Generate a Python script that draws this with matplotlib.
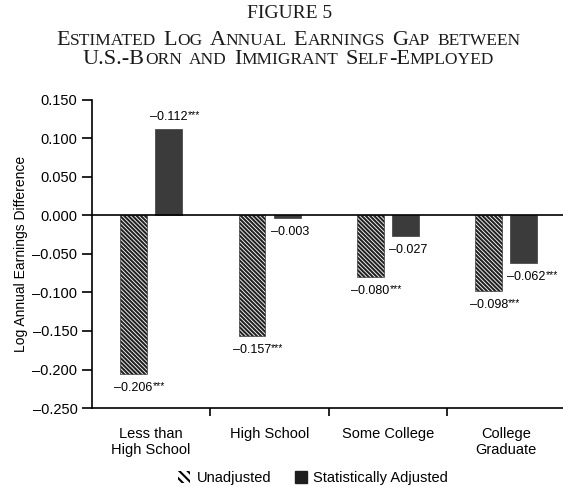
import matplotlib
matplotlib.use("Agg")
import matplotlib.pyplot as plt
from matplotlib.patches import Patch
import numpy as np

# ---- data -------------------------------------------------------------
categories = ["Less than\nHigh School", "High School", "Some College", "College\nGraduate"]
unadjusted = [-0.206, -0.157, -0.080, -0.098]
adjusted = [0.112, -0.003, -0.027, -0.062]
unadjusted_labels = ["\u20130.206", "\u20130.157", "\u20130.080", "\u20130.098"]
adjusted_labels = ["\u20130.112", "\u20130.003", "\u20130.027", "\u20130.062"]
unadjusted_stars = ["***", "***", "***", "***"]
adjusted_stars = ["***", "", "", "***"]
yticks = [0.150, 0.100, 0.050, 0.000, -0.050, -0.100, -0.150, -0.200, -0.250]
series_names = ["Unadjusted", "Statistically Adjusted"]

title_lines = [
    "FIGURE 5",
    "Estimated Log Annual Earnings Gap between",
    "U.S.-Born and Immigrant Self-Employed",
]

# ---- figure -----------------------------------------------------------
W, H, DPI = 563, 487, 100
SANS = "Liberation Sans"
SERIF = "Liberation Serif"
plt.rcParams["font.family"] = [SANS, "DejaVu Sans"]
plt.rcParams["hatch.linewidth"] = 1.5
plt.rcParams["hatch.color"] = "black"

fig = plt.figure(figsize=(W / DPI, H / DPI), dpi=DPI)
renderer = fig.canvas.get_renderer()
ax = fig.add_axes([92 / W, 1 - 408 / H, (W - 92) / W, (408 - 100) / H])

x = np.arange(len(categories))
bw = 0.228
off = 0.148
dark = "#3b3b3b"

b1 = ax.bar(x - off, unadjusted, bw, color="white", edgecolor="#222222",
            linewidth=0.4, hatch="\\" * 8, zorder=2)
b2 = ax.bar(x + off, adjusted, bw, color=dark, edgecolor=dark,
            linewidth=0.5, zorder=2)

ax.axhline(0, color="black", lw=1.2, zorder=3)

ax.set_xlim(-0.5, 3.48)
ax.set_ylim(-0.25, 0.15)
ax.set_yticks(yticks)
ax.set_yticklabels([f"{v:.3f}".replace("-", "\u2013") for v in yticks])
ax.set_xticks(x)
ax.set_xticklabels(categories, linespacing=1.1)
ax.set_xticks(x[:-1] + 0.5, minor=True)
ax.tick_params(axis="x", which="major", length=0, pad=14, labelsize=10.5)
ax.tick_params(axis="x", which="minor", length=6, width=1.2, direction="out")
ax.tick_params(axis="y", length=7, width=1.2, pad=3.5, labelsize=10.5)
for side in ("top", "right"):
    ax.spines[side].set_visible(False)
for side in ("left", "bottom"):
    ax.spines[side].set_linewidth(1.2)

fig.text(21 / W, 1 - 254 / H, "Log Annual Earnings Difference", rotation=90,
         ha="center", va="center", fontsize=10)


# ---- value labels -----------------------------------------------------
def value_label(xv, yv, text, stars, ha, dx, dy):
    t = ax.annotate(text, xy=(xv, yv), xytext=(dx, dy), textcoords="offset pixels",
                    ha=ha, va="center", fontsize=9, zorder=4)
    if stars:
        ax.annotate(stars, xy=(1.0, 1.1), xycoords=t, ha="left", va="top",
                    fontsize=7.5, zorder=4)
    return t


for i in range(len(categories)):
    # unadjusted: centred under the bar
    value_label(x[i] - off, unadjusted[i], unadjusted_labels[i],
                unadjusted_stars[i], "center", 0, -14)
    # adjusted: above when positive, below-right when negative
    if adjusted[i] >= 0:
        value_label(x[i] + off, adjusted[i], adjusted_labels[i],
                    adjusted_stars[i], "center", 0, 12)
    else:
        value_label(x[i] + off - bw / 2, adjusted[i], adjusted_labels[i],
                    adjusted_stars[i], "left", -3, -14)

# ---- legend -----------------------------------------------------------
handles = [
    Patch(facecolor="white", edgecolor="black", linewidth=0, hatch="\\\\\\\\"),
    Patch(facecolor="#1e1e1e", edgecolor="#1e1e1e"),
]
fig.legend(handles, series_names, loc="center", bbox_to_anchor=(313 / W, 1 - 478 / H),
           ncol=2, frameon=False, fontsize=10.5, handlelength=0.85, handleheight=0.85,
           handletextpad=0.45, columnspacing=1.6, borderpad=0)


# ---- small-caps title -------------------------------------------------
def smallcaps_runs(text, size, ratio):
    """Split text into runs: spaces, capitals (full size), lower case (small caps)."""
    runs = []
    for ch in text:
        if ch == " ":
            key, c = "space", ch
        elif ch.isalpha() and ch.islower():
            key, c = "small", ch.upper()
        else:
            key, c = "cap", ch
        if runs and runs[-1][2] == key:
            runs[-1][0] += c
        else:
            runs.append([c, size * ratio if key == "small" else size, key])
    return runs


def draw_smallcaps(text, cx, baseline, size, ratio=0.78, word_gap=1.0):
    runs = smallcaps_runs(text, size, ratio)
    pieces = []
    for r, s, k in runs:
        t = fig.text(0, 1 - baseline / H, r, fontsize=s, family=SERIF,
                     ha="left", va="baseline", color="#1a1a1a")
        w = t.get_window_extent(renderer).width
        if k == "space":
            t.remove()
            w *= word_gap
            t = None
        pieces.append((t, w))
    pen = cx - sum(w for _, w in pieces) / 2
    for t, w in pieces:
        if t is not None:
            t.set_x(pen / W)
        pen += w


fig.text(289.5 / W, 1 - 18 / H, title_lines[0], fontsize=14, family=SERIF,
         ha="center", va="baseline", color="#1a1a1a")
draw_smallcaps(title_lines[1], 288.5, 45, 16, word_gap=1.3)
draw_smallcaps(title_lines[2], 288.5, 64, 16, word_gap=1.3)

fig.savefig("out.png", dpi=DPI)
